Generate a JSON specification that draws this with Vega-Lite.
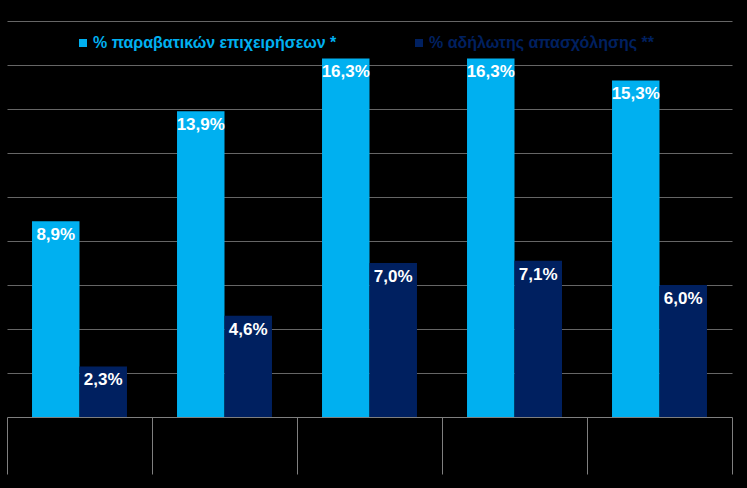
{
  "$schema": "https://vega.github.io/schema/vega-lite/v6.json",
  "width": 725,
  "height": 396,
  "autosize": "none",
  "padding": {"left": 7, "top": 21, "right": 15, "bottom": 71},
  "background": "#000000",
  "config": {
    "view": {"stroke": null},
    "locale": {
      "number": {"decimal": ",", "thousands": ".", "grouping": [3], "currency": ["", " €"]}
    },
    "font": "Liberation Sans"
  },
  "data": {
    "values": [
      {"group": "1", "series": "% παραβατικών επιχειρήσεων *", "value": 0.089},
      {"group": "1", "series": "% αδήλωτης απασχόλησης **", "value": 0.023},
      {"group": "2", "series": "% παραβατικών επιχειρήσεων *", "value": 0.139},
      {"group": "2", "series": "% αδήλωτης απασχόλησης **", "value": 0.046},
      {"group": "3", "series": "% παραβατικών επιχειρήσεων *", "value": 0.163},
      {"group": "3", "series": "% αδήλωτης απασχόλησης **", "value": 0.070},
      {"group": "4", "series": "% παραβατικών επιχειρήσεων *", "value": 0.163},
      {"group": "4", "series": "% αδήλωτης απασχόλησης **", "value": 0.071},
      {"group": "5", "series": "% παραβατικών επιχειρήσεων *", "value": 0.153},
      {"group": "5", "series": "% αδήλωτης απασχόλησης **", "value": 0.060}
    ]
  },
  "encoding": {
    "x": {
      "field": "group",
      "type": "nominal",
      "scale": {"padding": 0},
      "axis": {
        "title": null,
        "labels": false,
        "tickBand": "extent",
        "tickSize": 57,
        "tickColor": "#7f7f7f",
        "domainColor": "#7f7f7f",
        "tickWidth": 1,
        "domainWidth": 1
      }
    },
    "xOffset": {
      "field": "series",
      "type": "nominal",
      "sort": ["% παραβατικών επιχειρήσεων *", "% αδήλωτης απασχόλησης **"],
      "scale": {"paddingOuter": 0.527, "paddingInner": 0}
    },
    "y": {
      "field": "value",
      "type": "quantitative",
      "scale": {"domain": [0, 0.18], "nice": false},
      "axis": {
        "title": null,
        "labels": false,
        "ticks": false,
        "domain": false,
        "values": [0.02, 0.04, 0.06, 0.08, 0.1, 0.12, 0.14, 0.16, 0.18],
        "gridColor": "#666666",
        "gridWidth": 1
      }
    }
  },
  "layer": [
    {
      "mark": {"type": "bar"},
      "encoding": {
        "color": {
          "field": "series",
          "type": "nominal",
          "scale": {
            "domain": ["% παραβατικών επιχειρήσεων *", "% αδήλωτης απασχόλησης **"],
            "range": ["#00B0F0", "#002060"]
          },
          "legend": {
            "title": null,
            "orient": "none",
            "direction": "horizontal",
            "legendX": 68,
            "legendY": 14,
            "padding": 0,
            "symbolType": "square",
            "symbolSize": 64,
            "symbolStrokeWidth": 0,
            "labelFont": "Liberation Sans",
            "labelFontSize": 16,
            "labelFontWeight": "bold",
            "labelOffset": 2,
            "labelLimit": 400,
            "columnPadding": 74,
            "encode": {
              "labels": {
                "update": {
                  "fill": {"signal": "datum.value === '% παραβατικών επιχειρήσεων *' ? '#00B0F0' : '#002060'"}
                }
              }
            }
          }
        }
      }
    },
    {
      "mark": {
        "type": "text",
        "baseline": "top",
        "dy": 6,
        "color": "#ffffff",
        "font": "Liberation Sans",
        "fontSize": 17,
        "fontWeight": "bold"
      },
      "encoding": {
        "text": {"field": "value", "type": "quantitative", "format": ".1%"}
      }
    }
  ]
}
